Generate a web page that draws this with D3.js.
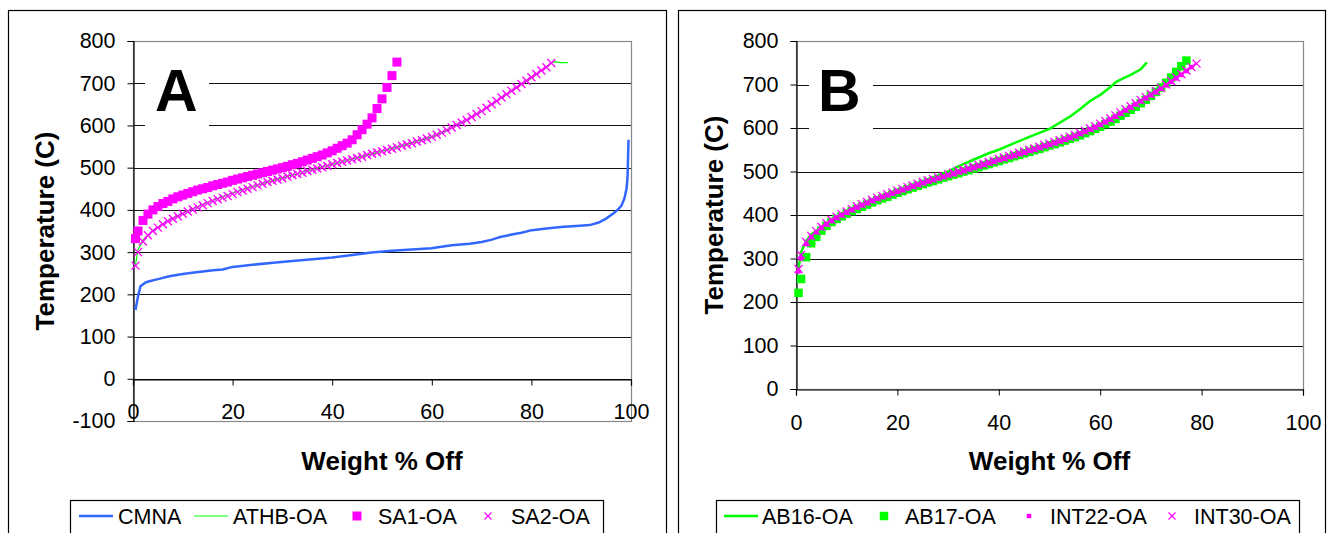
<!DOCTYPE html>
<html>
<head>
<meta charset="utf-8">
<script src="https://cdn.jsdelivr.net/npm/d3@7"></script>
<style>
  body { margin: 0; background: #fff; }
  text { font-family: "Liberation Sans", Arial, sans-serif; fill: #000; }
</style>
</head>
<body>
<svg id="chart" width="1329" height="533"></svg>
<script>
// ---- data (weight % off -> temperature C) ----
// shared weight-% steps used by the marker series
var pctSteps = [0.5,1,2,3,4,5,6,7,8,9,10,11,12,13,14,15,16,17,18,19,20,21,22,23,24,25,26,27,28,29,30,
  31,32,33,34,35,36,37,38,39,40,41,42,43,44,45,46,47,48,49,50,51,52,53,54,55,56,57,58,59,60,
  61,62,63,64,65,66,67,68,69,70,71,72,73,74,75,76,77,78,79,80,81,82,83,84];

// panel A
var cmna = [[0.5,163],[1,195],[1.5,219],[2.5,228],[3.3,231],[5,236],[7.3,243],[10,248],[11.9,251],[14,254],
  [16.1,257],[18,259],[20,265],[24,270],[28.2,275],[32,279],[36,283],[40,287],[44,293],[47.9,299],[52,303],
  [56,306],[59.9,309],[64,316],[67.6,320],[70,324],[71.9,329],[73.5,335],[75.8,341],[78,346],[80.1,352],
  [83,356],[86.5,360],[89,362],[91.7,364],[93.5,370],[95.1,380],[96.5,392],[97.3,400],[98.1,410],
  [98.7,428],[99.1,450],[99.3,476],[99.4,520],[99.5,566]];
var athb = [[0.5,270],[1,305],[2,328],[4,352],[7,375],[10,392],[15,418],[20,440],[25,459],[30,476],[35,492],
  [40,508],[45,523],[50,539],[55,555],[60,573],[63,588],[66,606],[70,633],[75,673],[80,712],[84,748],
  [84.5,751],[86,749],[87.3,749]];
var sa1Temp = [332,350,375,390,400,408,415,420,426,431,435,439,443,447,450,453,457,460,463,466,470,473,476,
  479,482,485,488,491,494,497,500,503,507,510,514,518,522,526,530,535,540,546,552,558,566,578,590,603,618,
  640,663,690,718,750];
var sa2Temp = [268,300,325,340,350,358,366,373,379,385,391,396,401,406,411,416,421,425,429,433,438,442,446,
  450,454,458,462,466,469,472,475,479,482,485,488,492,495,498,501,504,508,511,514,517,520,523,526,530,533,
  536,539,542,545,548,552,555,558,562,565,569,573,578,583,589,595,601,607,613,620,627,634,642,650,658,666,
  674,682,690,698,706,714,722,730,738,748];

// panel B
var ab16 = [[0.5,276],[1,315],[2,340],[3,355],[5,372],[8,393],[10,405],[15,432],[20,455],[25,477],[30,500],
  [32,512],[35,527],[38,542],[40,550],[44,570],[47,584],[50,598],[52,612],[54,626],[56,643],[58,662],
  [60,676],[62,694],[63,705],[64,711],[66,722],[68,735],[69.2,751]];
var ab17Temp = [221,253,303,335,350,364,375,384,391,397,403,409,414,419,424,429,434,438,442,447,451,455,459,
  463,467,471,475,478,482,486,489,493,496,500,503,507,510,514,517,521,524,528,531,535,538,542,545,549,552,
  556,560,563,567,571,575,579,583,588,593,598,603,609,615,621,628,635,642,649,657,665,674,683,693,704,716,
  729,742,755];
var int22Temp = [270,300,333,349,360,370,378,386,393,399,405,411,417,422,427,432,437,441,445,449,453,457,461,
  465,469,473,477,480,484,487,491,494,498,501,505,508,512,515,519,522,526,529,533,536,540,543,547,550,554,
  558,561,565,569,573,577,581,586,591,596,601,607,613,619,626,633,640,647,654,661,668,675,682,690,698,706,
  714,722,731,740];
var int30Temp = [276,308,338,352,363,373,381,389,396,402,408,414,420,425,430,435,440,444,448,452,456,460,464,
  468,472,476,480,483,487,490,494,497,501,504,508,511,515,518,522,525,529,532,536,539,543,546,550,553,557,
  561,564,568,572,576,580,584,589,594,599,604,610,616,622,629,636,643,650,657,664,671,678,685,692,700,708,
  716,724,732,740,748];

var xTicks = [0, 20, 40, 60, 80, 100];
var yTicksA = [-100, 0, 100, 200, 300, 400, 500, 600, 700, 800];
var yTicksB = [0, 100, 200, 300, 400, 500, 600, 700, 800];

var blue = "#3366ff", green = "#00ff00", magenta = "#ff00ff";

function withPct(temps) { return temps.map(function(t, i) { return [pctSteps[i], t]; }); }

var svg = d3.select("#chart");

function drawPanel(p) {
  var g = svg.append("g");

  // outer frame
  g.append("rect")
    .attr("x", p.frame[0] + 0.5).attr("y", 10.5)
    .attr("width", p.frame[1] - p.frame[0]).attr("height", 560)
    .attr("fill", "none").attr("stroke", "#000").attr("stroke-width", 1.2);

  var x = d3.scaleLinear().domain([0, 100]).range([p.left, p.right]);
  var y = d3.scaleLinear().domain([p.yTicks[0], 800]).range([p.bottom, 41]);

  // gridlines
  g.selectAll(".grid").data(p.yTicks.filter(function(d) { return d > p.yTicks[0] && d < 800; }))
    .enter().append("line")
    .attr("x1", p.left).attr("x2", p.right)
    .attr("y1", function(d) { return Math.round(y(d)) + 0.5; })
    .attr("y2", function(d) { return Math.round(y(d)) + 0.5; })
    .attr("stroke", "#111").attr("stroke-width", 1);

  // plot border
  g.append("rect")
    .attr("x", p.left + 0.5).attr("y", 41.5)
    .attr("width", p.right - p.left).attr("height", p.bottom - 41)
    .attr("fill", "none").attr("stroke", "#888").attr("stroke-width", 1.2);

  // white patch + panel letter
  g.append("rect").attr("x", p.letterBox[0]).attr("y", 58)
    .attr("width", p.letterBox[1] - p.letterBox[0]).attr("height", 76).attr("fill", "#fff");
  g.append("text").attr("x", p.letterX).attr("y", 111)
    .style("font-size", "59px").style("font-weight", "bold").text(p.letter);

  // y axis
  var yAxis = d3.axisLeft(y).tickValues(p.yTicks).tickSize(6).tickPadding(12)
    .tickFormat(function(d) { return String(d); });
  var ya = g.append("g").attr("transform", "translate(" + (p.left + 0.5) + ",0)").call(yAxis);
  ya.select(".domain").attr("stroke", "#000").attr("stroke-width", 1.2);
  ya.selectAll("text").style("font-size", "21.5px");

  // x axis at temperature 0
  var xAxis = d3.axisBottom(x).tickValues(xTicks).tickSize(6).tickPadding(p.xPad)
    .tickFormat(function(d) { return String(d); });
  var xa = g.append("g").attr("transform", "translate(0," + (Math.round(y(0)) + 0.5) + ")").call(xAxis);
  xa.select(".domain").attr("stroke", "#000").attr("stroke-width", 1.2);
  xa.selectAll("text").style("font-size", "21.5px");

  // axis titles
  g.append("text").attr("x", (p.left + p.right) / 2).attr("y", 470)
    .attr("text-anchor", "middle").style("font-size", "26px").style("font-weight", "bold")
    .text("Weight % Off");
  g.append("text").attr("transform", "translate(" + p.yTitleX + "," + ((41 + p.bottom) / 2) + ") rotate(-90)")
    .attr("text-anchor", "middle").attr("dy", "0.36em")
    .style("font-size", "26px").style("font-weight", "bold")
    .text("Temperature (C)");

  var line = d3.line().x(function(d) { return x(d[0]); }).y(function(d) { return y(d[1]); });

  // series
  p.series.forEach(function(s) {
    if (s.type === "line") {
      g.append("path").datum(s.data).attr("d", line)
        .attr("fill", "none").attr("stroke", s.color).attr("stroke-width", s.width)
        .attr("stroke-linejoin", "round");
    } else if (s.type === "square") {
      g.selectAll(null).data(s.data).enter().append("rect")
        .attr("x", function(d) { return x(d[0]) - s.size / 2; })
        .attr("y", function(d) { return y(d[1]) - s.size / 2; })
        .attr("width", s.size).attr("height", s.size).attr("fill", s.color);
    } else {
      g.selectAll(null).data(s.data).enter().append("path")
        .attr("transform", function(d) { return "translate(" + x(d[0]) + "," + y(d[1]) + ")"; })
        .attr("d", "M-4,-4L4,4M-4,4L4,-4")
        .attr("stroke", s.color).attr("stroke-width", 1.3).attr("fill", "none");
    }
  });

  // legend
  g.append("rect").attr("x", p.legend[0] + 0.5).attr("y", 500.5)
    .attr("width", p.legend[1] - p.legend[0]).attr("height", 60)
    .attr("fill", "#fff").attr("stroke", "#000").attr("stroke-width", 1.2);
  var ly = 516;
  p.series.forEach(function(s, i) {
    var k = p.legendPos[i];
    if (s.type === "line") {
      g.append("line").attr("x1", k[0]).attr("x2", k[0] + 34).attr("y1", ly).attr("y2", ly)
        .attr("stroke", s.color).attr("stroke-width", s.width);
    } else if (s.type === "square") {
      g.append("rect").attr("x", k[0] - s.size / 2).attr("y", ly - s.size / 2)
        .attr("width", s.size).attr("height", s.size).attr("fill", s.color);
    } else {
      g.append("path").attr("transform", "translate(" + k[0] + "," + ly + ")")
        .attr("d", "M-3.5,-3.5L3.5,3.5M-3.5,3.5L3.5,-3.5")
        .attr("stroke", s.color).attr("stroke-width", 1.2);
    }
    g.append("text").attr("x", k[1]).attr("y", ly).attr("dy", "0.36em")
      .style("font-size", "21.5px").text(s.name);
  });
}

drawPanel({
  frame: [8, 666], left: 133, right: 631, bottom: 421, yTicks: yTicksA, xPad: 18,
  letter: "A", letterX: 155, letterBox: [145, 209], yTitleX: 45,
  legend: [70, 603],
  legendPos: [[79, 118], [194, 233], [357, 378], [488, 511]],
  series: [
    { name: "CMNA", type: "line", color: blue, width: 2.5, data: cmna },
    { name: "ATHB-OA", type: "line", color: green, width: 1.2, data: athb },
    { name: "SA1-OA", type: "square", color: magenta, size: 9, data: withPct(sa1Temp) },
    { name: "SA2-OA", type: "cross", color: magenta, data: withPct(sa2Temp) }
  ]
});

drawPanel({
  frame: [678, 1325], left: 796, right: 1303, bottom: 389, yTicks: yTicksB, xPad: 19,
  letter: "B", letterX: 818, letterBox: [809, 873], yTitleX: 714,
  legend: [716, 1299],
  legendPos: [[724, 762], [884, 905], [1029, 1050], [1172, 1194]],
  series: [
    { name: "AB16-OA", type: "line", color: green, width: 2.5, data: ab16 },
    { name: "AB17-OA", type: "square", color: green, size: 8.5, data: withPct(ab17Temp) },
    { name: "INT22-OA", type: "square", color: magenta, size: 4.5, data: withPct(int22Temp) },
    { name: "INT30-OA", type: "cross", color: magenta, data: withPct(int30Temp) }
  ]
});
</script>
</body>
</html>
